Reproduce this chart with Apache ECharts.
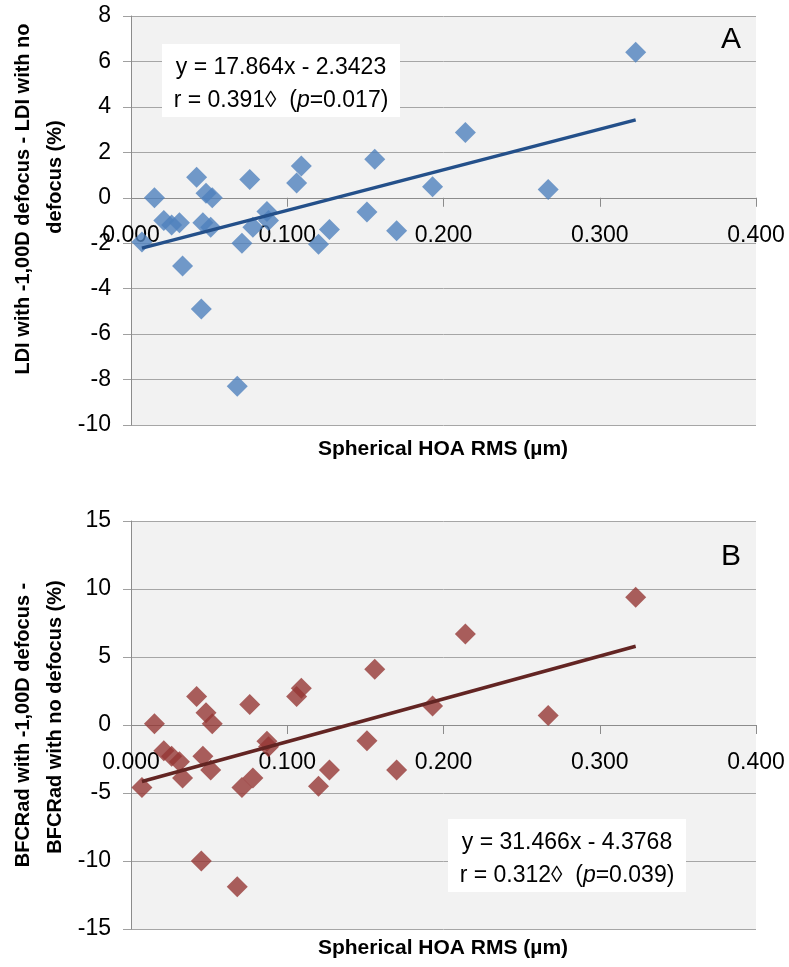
<!DOCTYPE html>
<html>
<head>
<meta charset="utf-8">
<script src="https://cdn.jsdelivr.net/npm/echarts@6/dist/echarts.min.js"></script>
<style>
  html, body { margin: 0; padding: 0; background: #ffffff; }
  #chart { width: 789px; height: 967px; }
</style>
</head>
<body>
<div id="chart"></div>
<script>
// Spherical HOA RMS (µm) for each eye
const hoaRms = [0.007, 0.015, 0.021, 0.026, 0.031, 0.033, 0.042, 0.045, 0.046, 0.048,
                0.052, 0.051, 0.068, 0.071, 0.076, 0.078, 0.087, 0.088, 0.106, 0.109,
                0.120, 0.127, 0.151, 0.156, 0.170, 0.193, 0.214, 0.267, 0.323];
// LDI change (%) with -1,00D defocus
const ldiDiff = [-1.95, 0.0, -1.0, -1.2, -1.1, -3.0, 0.9, -4.9, -1.1, 0.2,
                 0.0, -1.3, -8.3, -2.0, 0.8, -1.3, -0.6, -1.0, 0.65, 1.4,
                 -2.05, -1.4, -0.63, 1.7, -1.45, 0.48, 2.87, 0.36, 6.4];
// BFCRad change (%) with -1,00D defocus
const bfcDiff = [-4.6, 0.1, -1.9, -2.3, -2.7, -3.9, 2.1, -10.0, -2.3, 0.9,
                 0.1, -3.3, -11.9, -4.6, 1.5, -3.9, -1.2, -1.6, 2.1, 2.7,
                 -4.5, -3.3, -1.15, 4.1, -3.3, 1.4, 6.7, 0.7, 9.4];

// Linear fits as reported
const fitA = { slope: 17.864, intercept: -2.3423 };
const fitB = { slope: 31.466, intercept: -4.3768 };

const xTicks = { min: 0, max: 0.4, step: 0.1 };
const yTicksA = { min: -10, max: 8, step: 2 };
const yTicksB = { min: -15, max: 15, step: 5 };

const eqA = ['y = 17.864x - 2.3423', '0.391', '0.017'];
const eqB = ['y = 31.466x - 4.3768', '0.312', '0.039'];

const xTitle = 'Spherical HOA RMS (µm)';
const yTitleA = ['LDI with -1,00D defocus - LDI with no', 'defocus (%)'];
const yTitleB = ['BFCRad with -1,00D defocus -', 'BFCRad with no defocus (%)'];

const TICK_FONT = "'Liberation Sans', Arial, sans-serif";
const TITLE_FONT = "'Liberation Sans', Arial, sans-serif";

const gridA = { left: 131, top: 16, width: 625, height: 409 };
const gridB = { left: 131, top: 521, width: 625, height: 408 };

const pairs = (xs, ys) => xs.map((x, i) => [x, ys[i]]);
const fitLine = (fit) => {
  const lo = Math.min.apply(null, hoaRms), hi = Math.max.apply(null, hoaRms);
  return [[lo, fit.slope * lo + fit.intercept], [hi, fit.slope * hi + fit.intercept]];
};

// the x axis crosses the y axis at zero: lift it from the grid bottom by the share of the range below zero
function xAxisFor(gi, grid, yt) {
  return {
    type: 'value', gridIndex: gi, min: xTicks.min, max: xTicks.max, interval: xTicks.step,
    position: 'bottom',
    offset: -grid.height * (0 - yt.min) / (yt.max - yt.min),
    axisLine: { show: true, onZero: false, lineStyle: { color: '#8c8c8c', width: 1 } },
    axisTick: { show: true, inside: false, length: 9, lineStyle: { color: '#8c8c8c' } },
    axisLabel: { formatter: v => v.toFixed(3), fontFamily: TICK_FONT, fontSize: 23, color: '#000', margin: 26 },
    splitLine: { show: false }
  };
}
function yAxisFor(gi, t) {
  return {
    type: 'value', gridIndex: gi, min: t.min, max: t.max, interval: t.step,
    axisLine: { show: true, onZero: false, lineStyle: { color: '#8c8c8c', width: 1 } },
    axisTick: { show: true, inside: false, length: 8, lineStyle: { color: '#a0a0a0' } },
    axisLabel: { fontFamily: TICK_FONT, fontSize: 23, color: '#000', margin: 20 },
    splitLine: { show: true, lineStyle: { color: '#a6a6a6', width: 1 } }
  };
}

function eqBox(cx, top, lines) {
  const w = 238, h = 73;
  return [
    { type: 'rect', shape: { x: cx - w / 2, y: top, width: w, height: h }, style: { fill: '#ffffff' }, z: 10 },
    { type: 'text', x: cx, y: top + 24, z: 11,
      style: { text: lines[0], fontFamily: TICK_FONT, fontSize: 23, fill: '#000', align: 'center', verticalAlign: 'middle' } },
    { type: 'text', x: cx, y: top + 57, z: 11,
      style: {
        text: '{a|r = ' + lines[1] + '\u25CA  (}{i|p}{a|=' + lines[2] + ')}',
        align: 'center', verticalAlign: 'middle',
        rich: {
          a: { fontFamily: TICK_FONT, fontSize: 23, fill: '#000', color: '#000' },
          i: { fontFamily: TICK_FONT, fontSize: 23, fontStyle: 'italic', fill: '#000', color: '#000' }
        }
      } }
  ];
}

function vText(x, y, text) {
  return { type: 'text', x: x, y: y, rotation: Math.PI / 2, z: 11,
    style: { text: text, fontFamily: TITLE_FONT, fontWeight: 'bold', fontSize: 20, fill: '#000', align: 'center', verticalAlign: 'middle' } };
}
function hText(x, y, text, size, bold) {
  return { type: 'text', x: x, y: y, z: 11,
    style: { text: text, fontFamily: bold ? TITLE_FONT : TICK_FONT, fontWeight: bold ? 'bold' : 'normal', fontSize: size, fill: '#000', align: 'center', verticalAlign: 'middle' } };
}

const chart = echarts.init(document.getElementById('chart'), null, { renderer: 'canvas' });
chart.setOption({
  animation: false,
  backgroundColor: '#ffffff',
  grid: [
    Object.assign({ show: true, backgroundColor: '#f2f2f2', borderWidth: 0 }, gridA),
    Object.assign({ show: true, backgroundColor: '#f2f2f2', borderWidth: 0 }, gridB)
  ],
  xAxis: [xAxisFor(0, gridA, yTicksA), xAxisFor(1, gridB, yTicksB)],
  yAxis: [yAxisFor(0, yTicksA), yAxisFor(1, yTicksB)],
  series: [
    { type: 'scatter', xAxisIndex: 0, yAxisIndex: 0, symbol: 'diamond', symbolSize: 21,
      itemStyle: { color: '#4f81bd' }, data: pairs(hoaRms, ldiDiff), z: 3 },
    { type: 'line', xAxisIndex: 0, yAxisIndex: 0, symbol: 'none', data: fitLine(fitA),
      lineStyle: { color: '#24508a', width: 3.5 }, z: 4 },
    { type: 'scatter', xAxisIndex: 1, yAxisIndex: 1, symbol: 'diamond', symbolSize: 21,
      itemStyle: { color: '#953735' }, data: pairs(hoaRms, bfcDiff), z: 3 },
    { type: 'line', xAxisIndex: 1, yAxisIndex: 1, symbol: 'none', data: fitLine(fitB),
      lineStyle: { color: '#632523', width: 3.5 }, z: 4 }
  ],
  graphic: [].concat(
    eqBox(281, 44, eqA),
    eqBox(567, 819, eqB),
    [
      hText(731, 40, 'A', 30, false),
      hText(731, 557, 'B', 30, false),
      hText(443, 449, xTitle, 21, true),
      hText(443, 948, xTitle, 21, true),
      vText(23, 199, yTitleA[0]),
      vText(55, 177, yTitleA[1]),
      vText(23, 725, yTitleB[0]),
      vText(55, 717, yTitleB[1])
    ]
  )
});
</script>
</body>
</html>
